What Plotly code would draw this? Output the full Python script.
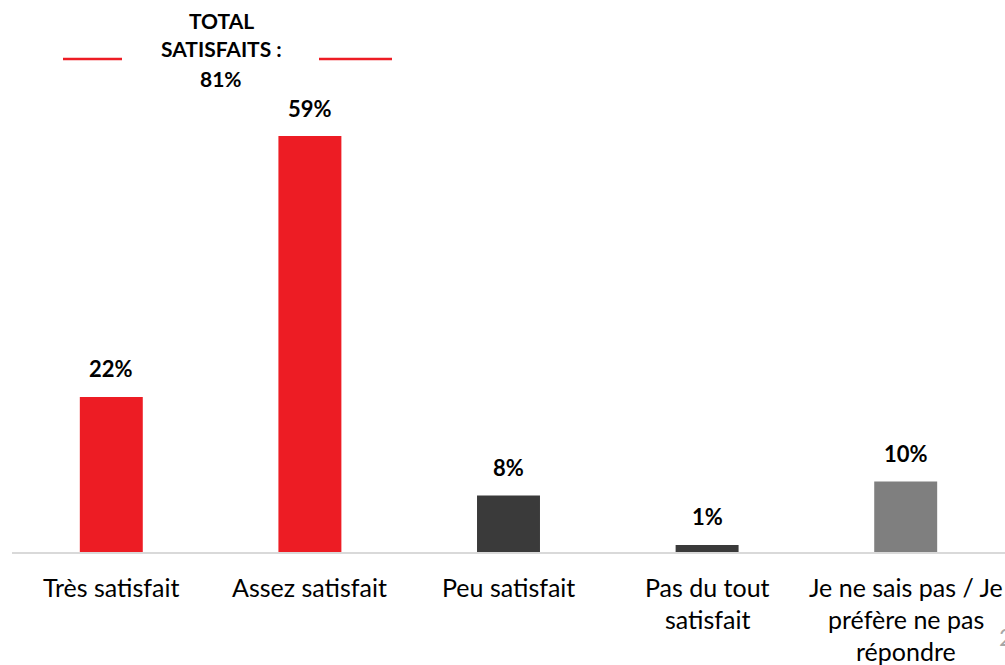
import plotly.graph_objects as go

categories = ["Très satisfait", "Assez satisfait", "Peu satisfait", "Pas du tout satisfait", "Je ne sais pas / Je préfère ne pas répondre"]
label_lines = [["Très satisfait"], ["Assez satisfait"], ["Peu satisfait"], ["Pas du tout", "satisfait"], ["Je ne sais pas / Je", "préfère ne pas", "répondre"]]
values = [22, 59, 8, 1, 10]
colors = ["#ED1C24", "#ED1C24", "#3A3A3A", "#3A3A3A", "#7F7F7F"]
total_lines = ["TOTAL", "SATISFAITS :", "81%"]

FONT = "Lato, 'Open Sans', sans-serif"
W, H = 1005, 665
# desired page positions of the plot area
PL, PR, PT, PB = 12, 1005, 60, 552
ml = PL
mr = W - PR
mt = PT
mb = H - PB
yr = (PB - PT) / 7.05

fig = go.Figure()
fig.add_trace(go.Bar(x=categories, y=values, marker=dict(color=colors, line=dict(width=0)),
                     width=0.317, hoverinfo="skip"))

anns = []
for c, v in zip(categories, values):
    anns.append(dict(x=c, y=v, xref="x", yref="y", text=f"<b>{v}%</b>", showarrow=False,
                     yanchor="middle", yshift=28, font=dict(family=FONT, size=22, color="#000000")))
for c, lines in zip(categories, label_lines):
    for i, ln in enumerate(lines):
        anns.append(dict(x=c, y=0, xref="x", yref="y", text=ln, showarrow=False,
                         yanchor="middle", yshift=-35 - 32 * i,
                         font=dict(family=FONT, size=25, color="#000000")))

def px_x(p):
    return (p - PL) / (PR - PL)

def px_y(p):
    return (PB - p) / (PB - PT)

for i, ln in enumerate(total_lines):
    anns.append(dict(x=px_x(221), y=px_y(20 + 29 * i), xref="paper", yref="paper",
                     xanchor="center", yanchor="middle", text=f"<b>{ln}</b>", showarrow=False,
                     font=dict(family=FONT, size=21, color="#000000")))
anns.append(dict(x=px_x(997), y=px_y(636), xref="paper", yref="paper", xanchor="left", yanchor="middle",
                 text="2", showarrow=False,
                 font=dict(family=FONT, size=24, color="#A6A6A6")))

shapes = [
    dict(type="line", xref="paper", yref="paper", x0=px_x(63), x1=px_x(122), y0=px_y(59), y1=px_y(59),
         line=dict(color="#ED1C24", width=2.5)),
    dict(type="line", xref="paper", yref="paper", x0=px_x(319), x1=px_x(392), y0=px_y(59), y1=px_y(59),
         line=dict(color="#ED1C24", width=2.5)),
]

fig.update_layout(
    width=W, height=H,
    margin=dict(l=ml, r=mr, t=mt, b=mb, pad=0),
    paper_bgcolor="white", plot_bgcolor="white",
    showlegend=False,
    annotations=anns, shapes=shapes,
    xaxis=dict(showticklabels=False, showgrid=False, zeroline=False, showline=True,
               linecolor="#D9D9D9", linewidth=1.5, ticks=""),
    yaxis=dict(range=[0, yr], visible=False, showgrid=False, zeroline=False),
    bargap=0.68,
)
fig.write_html("out.html", config={"displayModeBar": False},
               post_script="document.body.style.margin='0';document.body.style.overflow='hidden';")
